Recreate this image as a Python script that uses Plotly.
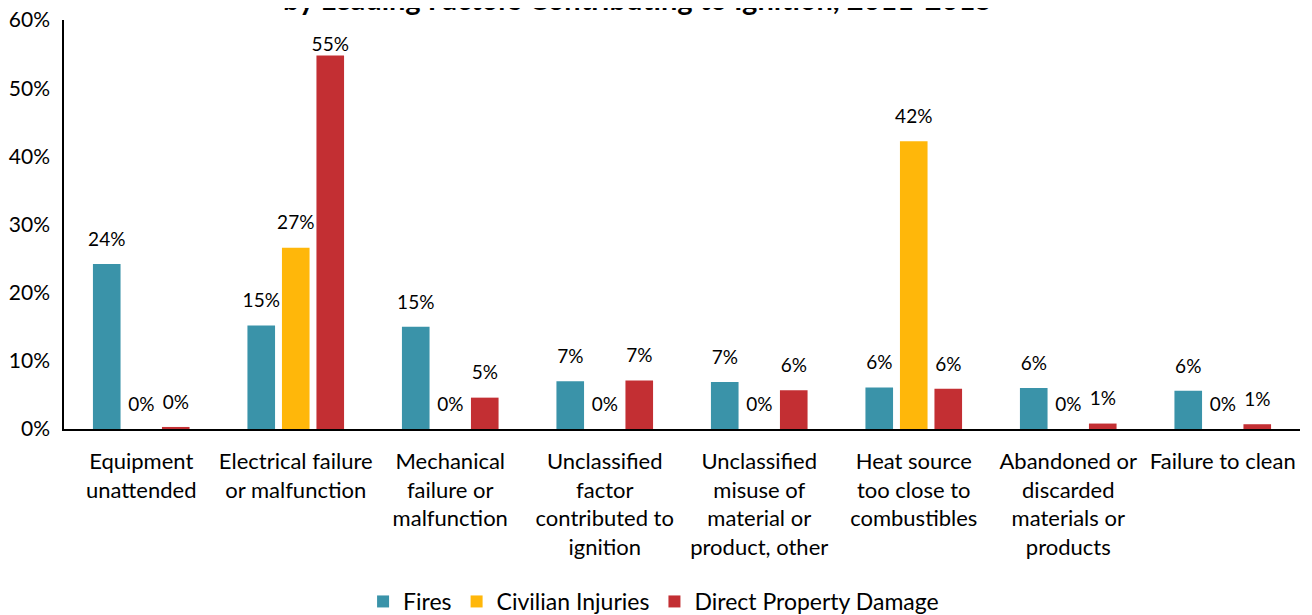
import plotly.graph_objects as go

categories = [
    "Equipment<br>unattended",
    "Electrical failure<br>or malfunction",
    "Mechanical<br>failure or<br>malfunction",
    "Unclassified<br>factor<br>contributed to<br>ignition",
    "Unclassified<br>misuse of<br>material or<br>product, other",
    "Heat source<br>too close to<br>combustibles",
    "Abandoned or<br>discarded<br>materials or<br>products",
    "Failure to clean",
]
fires = [24.2, 15.2, 15.0, 7.0, 6.9, 6.1, 6.0, 5.6]
injuries = [0.0, 26.6, 0.0, 0.0, 0.0, 42.2, 0.0, 0.0]
damage = [0.3, 54.8, 4.6, 7.1, 5.7, 5.9, 0.8, 0.7]

series = [
    ("Fires", fires, "#3A93A9"),
    ("Civilian Injuries", injuries, "#FFB70A"),
    ("Direct Property Damage", damage, "#C32F33"),
]

FONT = "Lato, 'Open Sans', sans-serif"
Y_MAX = 60

fig = go.Figure()
for name, vals, color in series:
    fig.add_trace(go.Bar(
        name=name, x=categories, y=vals,
        marker=dict(color=color, line=dict(width=0)),
        cliponaxis=False,
    ))
for name, vals, color in series:
    # labels near the top of the axis sit closer to their bar (as in the source chart)
    offsets = [0 if v > Y_MAX - 10 else 20 for v in vals]
    fig.add_trace(go.Scatter(
        name=name, x=categories, y=vals, mode="markers+text",
        text=[f"{round(v):.0f}%" for v in vals],
        textposition="top center",
        textfont=dict(size=19, color="#000000", family=FONT),
        marker=dict(size=offsets, opacity=0, color=color),
        showlegend=False, hoverinfo="skip", cliponaxis=False,
    ))

fig.add_annotation(
    text="<b>by Leading Factors Contributing to Ignition, 2011-2015</b>",
    xref="paper", yref="paper", x=0.464, y=1, yanchor="bottom",
    yshift=2, showarrow=False,
    font=dict(size=29, color="#000000", family=FONT),
)

fig.update_layout(
    width=1312, height=615,
    margin=dict(l=56, r=20, t=12, b=194, autoexpand=False),
    plot_bgcolor="white", paper_bgcolor="white",
    barmode="group", bargap=0.33, bargroupgap=0.2,
    scattermode="group", scattergap=0.33,
    font=dict(family=FONT, size=20, color="#000000"),
    showlegend=True,
    legend=dict(orientation="h", x=0.477, xanchor="center",
                yref="container", y=0.0, yanchor="bottom",
                font=dict(size=23), itemwidth=30, traceorder="normal"),
)
fig.update_yaxes(
    range=[0, Y_MAX], dtick=10, ticksuffix="%", showgrid=False, zeroline=False,
    showline=True, linecolor="#000000", linewidth=1.5,
    tickfont=dict(size=21), ticks="outside", ticklen=8,
    tickcolor="rgba(0,0,0,0)", automargin=False, ticklabeloverflow="allow",
)
fig.update_xaxes(
    showgrid=False, showline=True, linecolor="#000000", linewidth=1.5,
    tickfont=dict(size=22), tickangle=0, ticks="outside", ticklen=12,
    tickcolor="rgba(0,0,0,0)", automargin=False,
)

fig.write_html("out.html")
